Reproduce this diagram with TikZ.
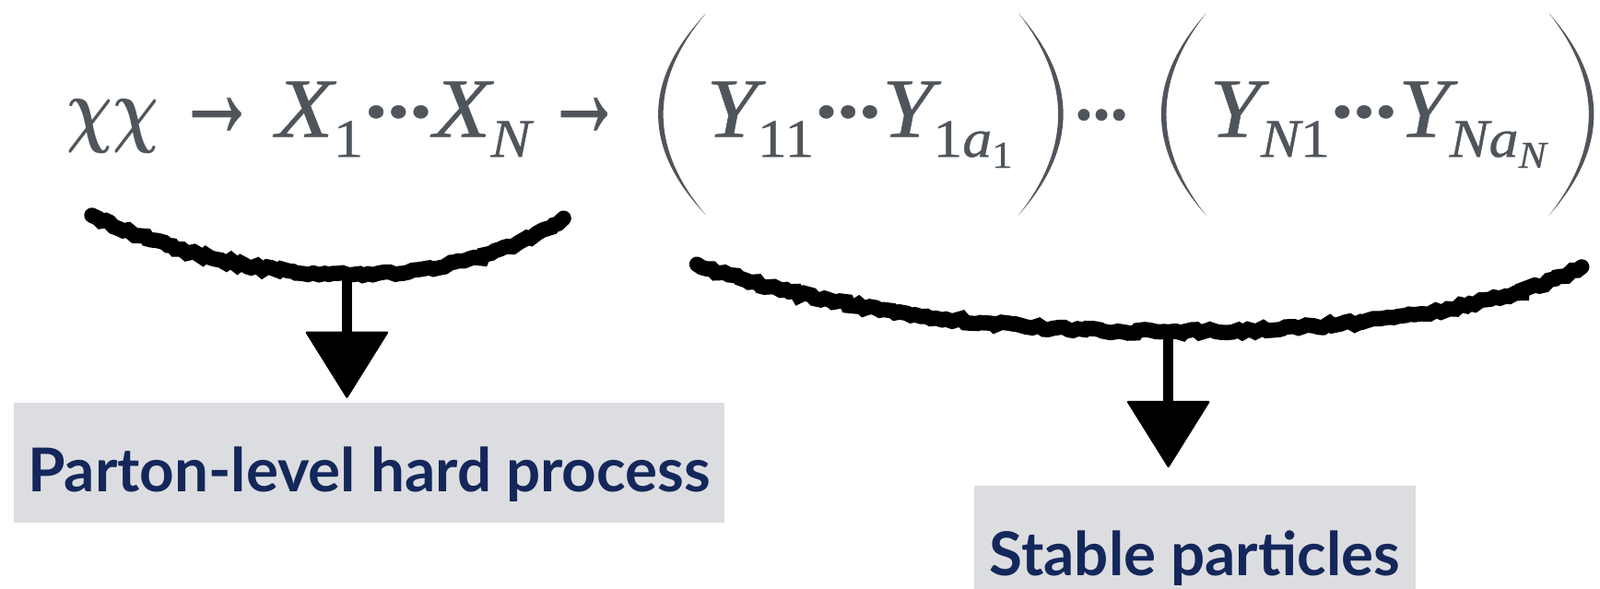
\documentclass[tikz,border=0pt]{standalone}
\usepackage{graphicx}
\usepackage{fontspec}
\setmainfont{Liberation Serif}[UprightFeatures={FakeBold=0.6}, ItalicFeatures={FakeBold=0.6}]
\newfontfamily\tagfont{Lato}
\usetikzlibrary{positioning,decorations.pathmorphing,arrows.meta}
\definecolor{eqgray}{HTML}{4F555B}
\definecolor{navy}{HTML}{14275A}
\definecolor{boxgray}{HTML}{DCDDE0}
% subscripts set by hand in the text font
\newcommand{\sbs}[1]{\raisebox{-10pt}{\fontsize{27}{27}\selectfont\upshape #1}}
\newcommand{\sbss}[1]{\raisebox{-5.5pt}{\fontsize{19}{19}\selectfont\upshape #1}}
% centred dots
\newcommand{\dt}{\raisebox{0.08em}{\scalebox{0.65}{\upshape •}}}
\newcommand{\mdots}{\kern0.02em\dt\kern0.01em\dt\kern0.01em\dt\kern0.02em}
% tall parenthesis: x of the two ends, x of the outer and inner bulge
\newcommand{\bigparen}[3]{%
  \fill[eqgray] (#1,13) .. controls ({#2-(#1-#2)/3},79) and ({#2-(#1-#2)/3},145) .. (#1,211)
    .. controls ({#3-(#1-#3)/3},145) and ({#3-(#1-#3)/3},79) .. (#1,13) -- cycle;}

\begin{document}
\begin{tikzpicture}[x=0.5pt, y=-0.5pt,
  eq/.style={anchor=base west, inner sep=0, text=eqgray, font=\fontsize{42}{42}\selectfont\itshape},
  rel/.style={eq, font=\fontsize{42}{42}\selectfont\upshape},
  tag/.style={anchor=north west, fill=boxgray, text=navy, inner sep=0,
    text height=43.75pt, text depth=15.25pt, font=\tagfont\bfseries\fontsize{29.6}{29.6}\selectfont},
  sketch/.style={draw=black, line width=7.5pt, line cap=round, decorate,
    decoration={random steps, segment length=2.5pt, amplitude=1pt}},
  stem/.style={draw=black, line width=5pt,
    -{Triangle[width=41pt, length=33pt, line width=1pt, round]}}]
\useasboundingbox (0,0) rectangle (1568,577);

% the process
\node[eq] (chis) at (65,134) {\resizebox{45pt}{18.3pt}{\boldmath$\chi\chi$}};
\node[rel] (to1) at (172,134) {\resizebox{40pt}{19pt}{→}};
\node[eq] (xs) at (270,134) {\resizebox{125pt}{27pt}{X\sbs{1}\mdots X\sbs{\itshape N}}};
\node[rel] (to2) at (534,134) {\resizebox{38pt}{19pt}{→}};
\bigparen{692}{645}{650}
\node[eq] (yone) at (692,134) {\resizebox{150pt}{27pt}{Y\sbs{11}\mdots Y\sbs{1\itshape a\sbss{1}}}};
\bigparen{998}{1042}{1037}
\node[eq] (mid) at (1052,134) {\resizebox{27pt}{!}{\mdots}};
\bigparen{1182}{1138}{1143}
\node[eq] (yn) at (1185,134) {\resizebox{165pt}{27pt}{Y\sbs{\itshape N\upshape 1}\mdots Y\sbs{\itshape Na\sbss{\itshape N}}}};
\bigparen{1518}{1562}{1557}

% labels
\node[tag, minimum width=348pt] (parton) at (13.5,394) {Parton-level hard process};
\node[tag, minimum width=216.5pt] (stable) at (954,476) {Stable particles};

% hand drawn braces
\draw[sketch] (90,211) .. controls (250,288) and (443,288) .. (552,214);
\coordinate (lb) at (340,269);
\draw[stem, shorten >=2pt] (lb) -- (lb |- parton.north);
\draw[sketch] (683,259) .. controls (920,346.5) and (1389,346.5) .. (1549,262);
\coordinate (rb) at (1145,325);
\draw[stem, shorten >=9pt] (rb) -- (rb |- stable.north);
\end{tikzpicture}
\end{document}
